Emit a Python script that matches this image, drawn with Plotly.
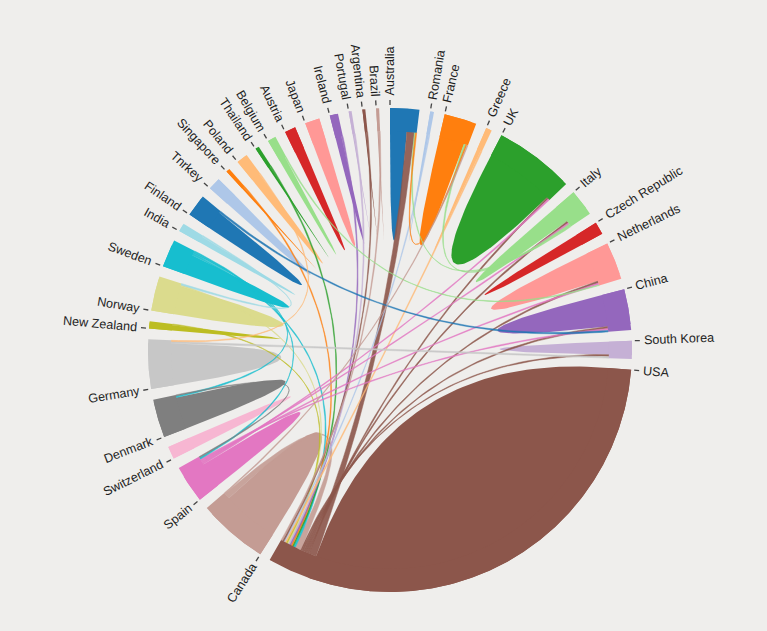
import math
import plotly.graph_objects as go

# ---------------- data ----------------
countries = ["Australia", "Romania", "France", "Greece", "UK", "Italy", "Czech Republic",
             "Netherlands", "China", "South Korea", "USA", "Canada", "Spain", "Switzerland",
             "Denmark", "Germany", "New Zealand", "Norway", "Sweden", "India", "Finland",
             "Tnrkey", "Singapore", "Poland", "Thailand", "Belgium", "Austria", "Japan",
             "Ireland", "Portugal", "Argentina", "Brazil"]

# flow of each country to itself (the big petals)
self_flow = [4.4, 0.6, 6.7, 1.0, 18.4, 4.7, 3.0, 7.8, 8.4, 3.4, 105.0, 15.0, 6.7, 3.0,
             8.5, 11.0, 1.4, 7.6, 5.3, 1.6, 4.8, 3.0, 0.5, 2.4, 0.5, 1.7, 2.6, 3.5,
             1.6, 0.3, 0.3, 0.3]

# flows between countries
flow_src = ["USA", "USA", "USA", "USA", "USA", "USA",
            "Canada", "Sweden", "Thailand", "Singapore", "Ireland", "Portugal", "Norway",
            "New Zealand", "Greece", "Romania", "Argentina", "Brazil",
            "Spain", "Spain", "Spain", "Spain", "Finland", "Germany", "Sweden", "Sweden",
            "India", "Italy", "Italy", "France", "Belgium", "Poland", "Denmark", "Canada"]
flow_dst = ["Australia", "UK", "Italy", "Netherlands", "China", "South Korea",
            "USA", "USA", "USA", "USA", "USA", "USA", "USA",
            "USA", "USA", "USA", "USA", "USA",
            "UK", "Italy", "Netherlands", "China", "China", "South Korea", "Denmark", "Spain",
            "Norway", "France", "Australia", "Australia", "Netherlands", "Germany", "Spain", "France"]
flow_val = [2.0, 0.5, 0.5, 0.5, 0.5, 0.4,
            1.5, 0.5, 0.4, 0.4, 0.4, 0.4, 0.3,
            0.3, 0.4, 0.3, 0.4, 0.4,
            0.4, 0.4, 0.4, 0.4, 0.5, 0.5, 0.4, 0.4,
            0.4, 0.5, 0.3, 0.3, 0.3, 0.3, 0.3, 0.3]

palette = ["#1f77b4", "#aec7e8", "#ff7f0e", "#ffbb78", "#2ca02c", "#98df8a", "#d62728",
           "#ff9896", "#9467bd", "#c5b0d5", "#8c564b", "#c49c94", "#e377c2", "#f7b6d2",
           "#7f7f7f", "#c7c7c7", "#bcbd22", "#dbdb8d", "#17becf", "#9edae5"]

# ---------------- layout of the chord diagram ----------------
BG = "#efeeec"
R_OUT, R_IN = 242.0, 219.0
PAD = math.radians(2.58)
n = len(countries)
idx = {c: i for i, c in enumerate(countries)}

# subgroups: self first, then flows in list order
subs = [[("self", self_flow[i])] for i in range(n)]
for f, (s, d, v) in enumerate(zip(flow_src, flow_dst, flow_val)):
    subs[idx[s]].append((f, v))
    subs[idx[d]].append((f, v))

totals = [sum(v for _, v in subs[i]) for i in range(n)]
k = (2 * math.pi - n * PAD) / sum(totals)

group_ang = []
sub_ang = {}
x = 0.0
for i in range(n):
    a0 = x
    for key, v in subs[i]:
        sub_ang[(i, key)] = (x, x + v * k)
        x += v * k
    group_ang.append((a0, x))
    x += PAD


def pt(r, a):
    return (r * math.sin(a), r * math.cos(a))


def arc(r, a0, a1):
    steps = max(3, int(abs(a1 - a0) / 0.004) + 2)
    return [pt(r, a0 + (a1 - a0) * t / (steps - 1)) for t in range(steps)]


def quad(p0, p2, steps=60):
    out = []
    for s in range(steps + 1):
        t = s / steps
        out.append(((1 - t) ** 2 * p0[0] + t ** 2 * p2[0], (1 - t) ** 2 * p0[1] + t ** 2 * p2[1]))
    return out


def ribbon(s0, s1, t0, t1, r):
    return arc(r, s0, s1) + quad(pt(r, s1), pt(r, t0)) + arc(r, t0, t1) + quad(pt(r, t1), pt(r, s0))


def petal(s0, s1, r, rout):
    # petal that also covers the ring part above it (no seam)
    return arc(rout, s0, s1) + quad(pt(r, s1), pt(r, s0))


fig = go.Figure()


def add_poly(pts, color, opacity=1.0, lw=0.0):
    xs = [p[0] for p in pts] + [pts[0][0]]
    ys = [p[1] for p in pts] + [pts[0][1]]
    fig.add_trace(go.Scatter(x=xs, y=ys, mode="lines", fill="toself", fillcolor=color,
                             line=dict(color=color, width=lw), opacity=opacity,
                             hoverinfo="skip", showlegend=False))


# petals (self flows)
for i in range(n):
    s0, s1 = sub_ang[(i, "self")]
    add_poly(petal(s0, s1, R_IN, R_OUT), palette[i % 20])

# flows between countries
for f, (s, d, v) in enumerate(zip(flow_src, flow_dst, flow_val)):
    si, di = idx[s], idx[d]
    a0, a1 = sub_ang[(si, f)]
    b0, b1 = sub_ang[(di, f)]
    add_poly(ribbon(a0, a1, b0, b1, R_IN), palette[si % 20], opacity=0.9, lw=0.5)

# group rings
for i in range(n):
    a0, a1 = group_ang[i]
    pts = arc(R_OUT, a0, a1) + arc(R_IN, a1, a0)
    add_poly(pts, palette[i % 20])

# ticks
tx, ty = [], []
for i in range(n):
    a0 = group_ang[i][0]
    p0, p1 = pt(R_OUT + 3, a0), pt(R_OUT + 8, a0)
    tx += [p0[0], p1[0], None]
    ty += [p0[1], p1[1], None]
fig.add_trace(go.Scatter(x=tx, y=ty, mode="lines", line=dict(color="#444", width=1.3),
                         hoverinfo="skip", showlegend=False))

# labels
W = {'A': 667, 'B': 667, 'C': 722, 'D': 722, 'F': 611, 'G': 778, 'I': 278, 'J': 500, 'K': 667,
     'N': 722, 'P': 667, 'R': 722, 'S': 667, 'T': 611, 'U': 722, 'Z': 611, ' ': 278,
     'a': 556, 'b': 556, 'c': 500, 'd': 556, 'e': 556, 'g': 556, 'h': 556, 'i': 222, 'k': 500,
     'l': 222, 'm': 833, 'n': 556, 'o': 556, 'p': 556, 'r': 333, 's': 500, 't': 278, 'u': 556,
     'w': 722, 'y': 500, 'z': 500}
FS = 12.6
for i, name in enumerate(countries):
    a = group_ang[i][0]
    w = sum(W.get(ch, 556) for ch in name) / 1000.0 * FS
    rc = R_OUT + 12 + w / 2
    cx, cy = pt(rc, a)
    deg = math.degrees(a)
    ang = deg - 90 if a < math.pi else deg - 270
    fig.add_annotation(x=cx, y=cy, text=name, showarrow=False, textangle=ang,
                       xanchor="center", yanchor="middle",
                       font=dict(family="Liberation Sans, Arial, sans-serif", size=FS, color="#1e1e1e"))

fig.update_layout(width=767, height=631, margin=dict(l=0, r=0, t=0, b=0),
                  paper_bgcolor=BG, plot_bgcolor=BG,
                  xaxis=dict(range=[-390, 377], visible=False, fixedrange=True),
                  yaxis=dict(range=[-281, 350], visible=False, fixedrange=True))

fig.write_html("out.html", config={"displayModeBar": False},
               post_script="document.body.style.margin='0';document.body.style.background='%s';" % BG)
